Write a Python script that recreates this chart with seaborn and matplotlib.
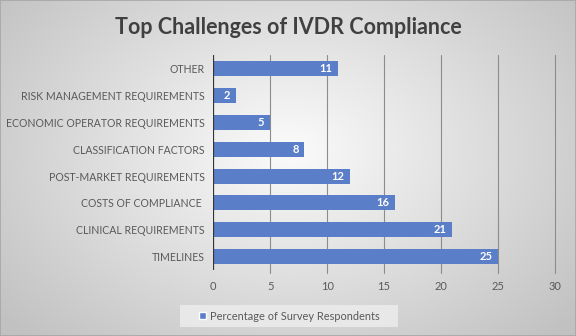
import numpy as np
import pandas as pd
import matplotlib
matplotlib.use("Agg")
import matplotlib.pyplot as plt
import seaborn as sns
from matplotlib.patches import Patch

categories = ["OTHER", "RISK MANAGEMENT REQUIREMENTS", "ECONOMIC OPERATOR REQUIREMENTS",
              "CLASSIFICATION FACTORS", "POST-MARKET REQUIREMENTS", "COSTS OF COMPLIANCE ",
              "CLINICAL REQUIREMENTS", "TIMELINES"]
values = [11, 2, 5, 8, 12, 16, 21, 25]
xticks = [0, 5, 10, 15, 20, 25, 30]
series_name = "Percentage of Survey Respondents"
title = "Top Challenges of IVDR Compliance"

sns.set_theme(style="white")
plt.rcParams['font.family'] = ['Lato', 'DejaVu Sans']

fig = plt.figure(figsize=(5.76, 3.36), dpi=100)

# radial gradient background
bg = fig.add_axes([0, 0, 1, 1], zorder=0)
yy, xx = np.mgrid[0:336, 0:576]
r = np.sqrt(((xx - 288) / 330.0) ** 2 + ((yy - 150) / 230.0) ** 2)
shade = np.clip(0.985 - 0.2 * r, 0.76, 1.0)
bg.imshow(np.dstack([shade, shade, shade]), extent=[0, 1, 0, 1], aspect='auto', origin='upper')
bg.set_axis_off()
bg.set_xlim(0, 1)
bg.set_ylim(0, 1)
bg.add_patch(plt.Rectangle((0, 0), 1, 1, fill=False, edgecolor='#a6a6a6', lw=1.2, transform=bg.transAxes))
# legend box
bg.add_patch(plt.Rectangle((0.3125, 0.0268), 0.3785, 0.0655, facecolor='#ececec',
                           edgecolor='none', alpha=0.85, transform=bg.transAxes, zorder=2))

ax = fig.add_axes([0.370, 0.196, 0.5935, 0.640], zorder=1)
ax.patch.set_alpha(0)
df = pd.DataFrame({"cat": categories, "val": values})
sns.barplot(data=df, x="val", y="cat", orient="h", color="#5a7fc8", saturation=1,
            width=0.56, ax=ax, zorder=3, linewidth=0)

ax.set_xlim(0, 30)
ax.set_xticks(xticks)
ax.set_xticklabels([str(t) for t in xticks], color="#595959", fontsize=8)
ax.tick_params(axis='y', labelsize=7.6, labelcolor="#595959", length=0, pad=6)
ax.tick_params(axis='x', length=0, pad=8)
ax.set_xlabel("")
ax.set_ylabel("")
for s in ax.spines.values():
    s.set_visible(False)
for t in xticks[1:]:
    ax.axvline(t, color="#8c8c8c", lw=0.8, zorder=1, ymin=-0.015, ymax=1, clip_on=False)
ax.axvline(0, color="#333333", lw=1.6, zorder=4)

for i, v in enumerate(values):
    ax.text(v - 0.5, i, str(v), ha='right', va='center', color='white',
            fontsize=8, fontweight='bold', zorder=5)

fig.text(0.5, 0.918, title, ha='center', va='center', fontsize=15.5,
         fontweight='bold', color='#404040')

leg = fig.legend(handles=[Patch(facecolor="#5a7fc8", label=series_name)],
                 loc='center', bbox_to_anchor=(0.503, 0.0595), frameon=False,
                 fontsize=7.9, handlelength=0.6, handleheight=0.6, handletextpad=0.4,
                 borderpad=0.3)
for t in leg.get_texts():
    t.set_color('#595959')

fig.savefig("out.png", dpi=100)
